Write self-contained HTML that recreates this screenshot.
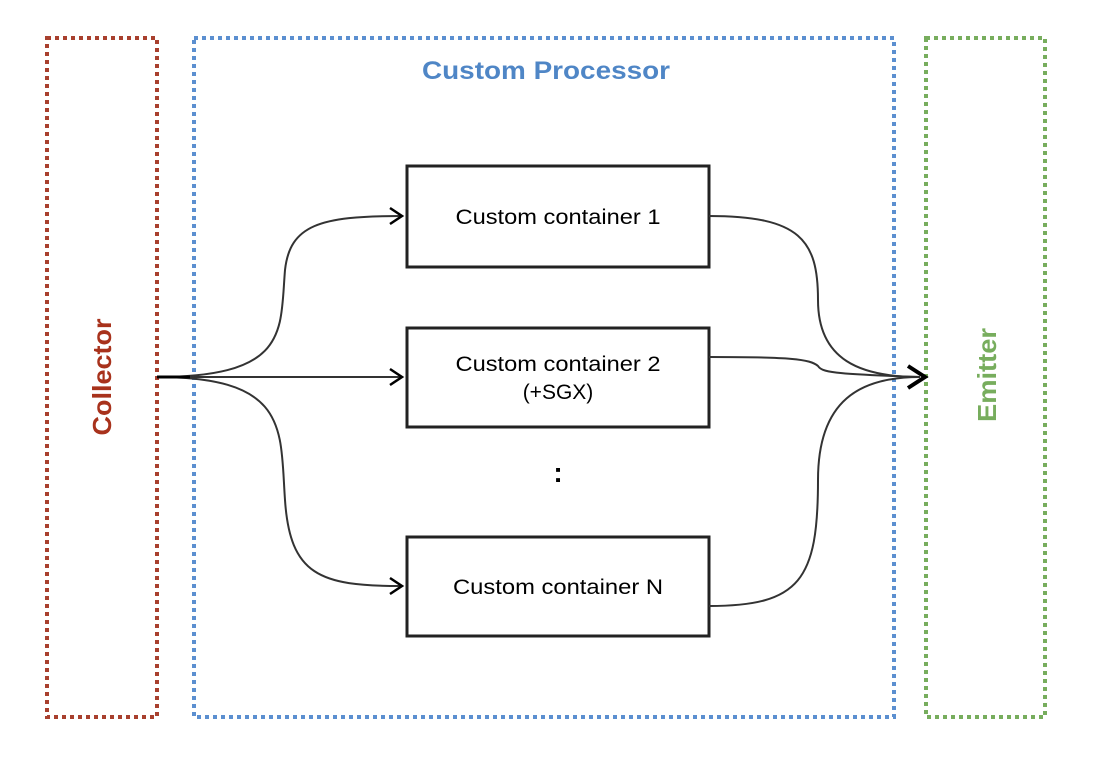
<!DOCTYPE html>
<html><head><style>body{margin:0;background:#fff}svg{display:block}</style></head><body>
<svg width="1100" height="762" xmlns="http://www.w3.org/2000/svg" font-family="Liberation Sans, sans-serif">
<g fill="none" stroke-width="4" stroke-dasharray="4 4">
<rect x="47" y="38" width="110" height="679" stroke="#a8402e"/>
<rect x="194" y="38" width="700" height="679" stroke="#5b8fd0"/>
<rect x="926" y="38" width="119" height="679" stroke="#77ad5d"/>
</g>
<text x="546" y="79" text-anchor="middle" font-size="25" font-weight="bold" fill="#4f86c6" textLength="248" lengthAdjust="spacingAndGlyphs">Custom Processor</text>
<text transform="translate(111,377) rotate(-90)" text-anchor="middle" font-size="26" font-weight="bold" fill="#a8321c" textLength="117" lengthAdjust="spacingAndGlyphs">Collector</text>
<text transform="translate(996,375) rotate(-90)" text-anchor="middle" font-size="26" font-weight="bold" fill="#77ad5d" textLength="94" lengthAdjust="spacingAndGlyphs">Emitter</text>
<g fill="#fff" stroke="#222" stroke-width="3">
<rect x="407" y="166" width="302" height="101"/>
<rect x="407" y="328" width="302" height="99"/>
<rect x="407" y="537" width="302" height="99"/>
</g>
<g font-size="21" fill="#000" text-anchor="middle">
<text x="558" y="224" textLength="205" lengthAdjust="spacingAndGlyphs">Custom container 1</text>
<text x="558" y="371" textLength="205" lengthAdjust="spacingAndGlyphs">Custom container 2</text>
<text x="558" y="399">(+SGX)</text>
<text x="558" y="594" textLength="210" lengthAdjust="spacingAndGlyphs">Custom container N</text>
<text x="558" y="482" font-size="28" font-weight="bold">:</text>
</g>
<g fill="none" stroke="#333" stroke-width="2">
<path d="M157 377 C280 377 280 377 400 377"/>
<path d="M157 377 C290 377 280 330 285 270 C290 225 320 216 400 216"/>
<path d="M157 377 C290 377 280 430 285 500 C290 575 320 586 400 586"/>
<path d="M709 216 C800 216 818 240 818 300 C818 360 860 377 920 377"/>
<path d="M709 357 C790 357 810 359 818 366 C822 372 830 374 920 377"/>
<path d="M709 606 C800 606 818 580 818 480 C818 400 860 377 920 377"/>
</g>
<path d="M157 377 L190 377" stroke="#000" stroke-width="3"/>
<g fill="none" stroke="#000" stroke-width="2.5">
<path d="M390 208 L402 216 L390 224"/>
<path d="M390 369 L402 377 L390 385"/>
<path d="M390 578 L402 586 L390 594"/>
</g>
<path d="M908 366 L925 377 L908 388" fill="none" stroke="#000" stroke-width="4"/>
</svg>
</body></html>
